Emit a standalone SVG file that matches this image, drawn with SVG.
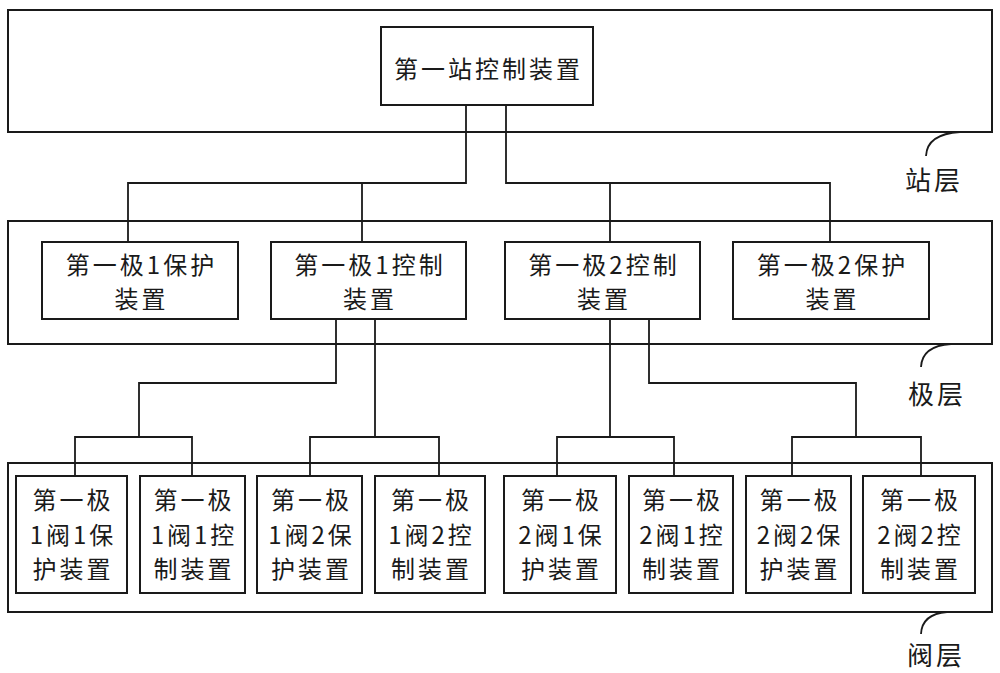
<svg xmlns="http://www.w3.org/2000/svg" width="1000" height="673" viewBox="0 0 1000 673">
<style>
.layer{fill:none;stroke:#1a1a1a;stroke-width:2}
.box{fill:#fff;stroke:#1a1a1a;stroke-width:2}
.t{font-family:"Noto Sans CJK SC","Liberation Serif",serif;font-size:24px;letter-spacing:3px;fill:#1a1a1a;text-anchor:middle;dominant-baseline:central}
.lbl{font-family:"Noto Sans CJK SC","Liberation Serif",serif;font-size:26px;letter-spacing:3px;fill:#1a1a1a;text-anchor:middle;dominant-baseline:central}
.c{fill:none;stroke:#1a1a1a;stroke-width:1.8}
</style>
<rect width="1000" height="673" fill="#fff"/>
<g id="layers">
<rect class="layer" x="8" y="10" width="984" height="122"/>
<rect class="layer" x="8" y="221" width="984" height="123"/>
<rect class="layer" x="8" y="463" width="984" height="149"/>
</g>
<g id="connectors">
<path class="c" d="M466,105 V183 H128 V242 M362,183 V242 M506,105 V183 H830 V242 M610,183 V242"/>
<path class="c" d="M336,319 V383 H139 V437 M375,319 V437 M610,319 V437 M649,319 V383 H856 V437"/>
<path class="c" d="M75,476 V437 H192 V476 M310,476 V437 H439 V476 M557,476 V437 H674 V476 M792,476 V437 H921 V476"/>
<path class="c" d="M960,132 Q927,134 926,156"/>
<path class="c" d="M951,344 Q922,346 921,367"/>
<path class="c" d="M947,612 Q922,614 921,634"/>
</g>
<g id="station">
<rect class="box" x="381" y="27" width="212" height="78"/>
<text class="t" x="488.5" y="67">第一站控制装置</text>
</g>
<g id="p1prot"><rect class="box" x="42" y="242" width="196" height="77"/><text class="t" x="141.5" y="263">第一极1保护</text><text class="t" x="141.5" y="297">装置</text></g>
<g id="p1ctrl"><rect class="box" x="271" y="242" width="195" height="77"/><text class="t" x="370" y="263">第一极1控制</text><text class="t" x="370" y="297">装置</text></g>
<g id="p2ctrl"><rect class="box" x="505" y="242" width="195" height="77"/><text class="t" x="604" y="263">第一极2控制</text><text class="t" x="604" y="297">装置</text></g>
<g id="p2prot"><rect class="box" x="733" y="242" width="196" height="77"/><text class="t" x="832.5" y="263">第一极2保护</text><text class="t" x="832.5" y="297">装置</text></g>
<g id="v11p"><rect class="box" x="16" y="476" width="111" height="117"/><text class="t" x="73" y="498">第一极</text><text class="t" x="73" y="533">1阀1保</text><text class="t" x="73" y="567">护装置</text></g>
<g id="v11c"><rect class="box" x="140" y="476" width="105" height="117"/><text class="t" x="194" y="498">第一极</text><text class="t" x="194" y="533">1阀1控</text><text class="t" x="194" y="567">制装置</text></g>
<g id="v12p"><rect class="box" x="257" y="476" width="105" height="117"/><text class="t" x="311.5" y="498">第一极</text><text class="t" x="311.5" y="533">1阀2保</text><text class="t" x="311.5" y="567">护装置</text></g>
<g id="v12c"><rect class="box" x="375" y="476" width="110" height="117"/><text class="t" x="431.5" y="498">第一极</text><text class="t" x="431.5" y="533">1阀2控</text><text class="t" x="431.5" y="567">制装置</text></g>
<g id="v21p"><rect class="box" x="504" y="476" width="112" height="117"/><text class="t" x="561.5" y="498">第一极</text><text class="t" x="561.5" y="533">2阀1保</text><text class="t" x="561.5" y="567">护装置</text></g>
<g id="v21c"><rect class="box" x="629" y="476" width="104" height="117"/><text class="t" x="682.5" y="498">第一极</text><text class="t" x="682.5" y="533">2阀1控</text><text class="t" x="682.5" y="567">制装置</text></g>
<g id="v22p"><rect class="box" x="746" y="476" width="105" height="117"/><text class="t" x="800" y="498">第一极</text><text class="t" x="800" y="533">2阀2保</text><text class="t" x="800" y="567">护装置</text></g>
<g id="v22c"><rect class="box" x="863" y="476" width="112" height="117"/><text class="t" x="920.5" y="498">第一极</text><text class="t" x="920.5" y="533">2阀2控</text><text class="t" x="920.5" y="567">制装置</text></g>
<g id="labels">
<text class="lbl" x="934" y="178">站层</text>
<text class="lbl" x="937" y="392">极层</text>
<text class="lbl" x="936" y="653">阀层</text>
</g>
</svg>
